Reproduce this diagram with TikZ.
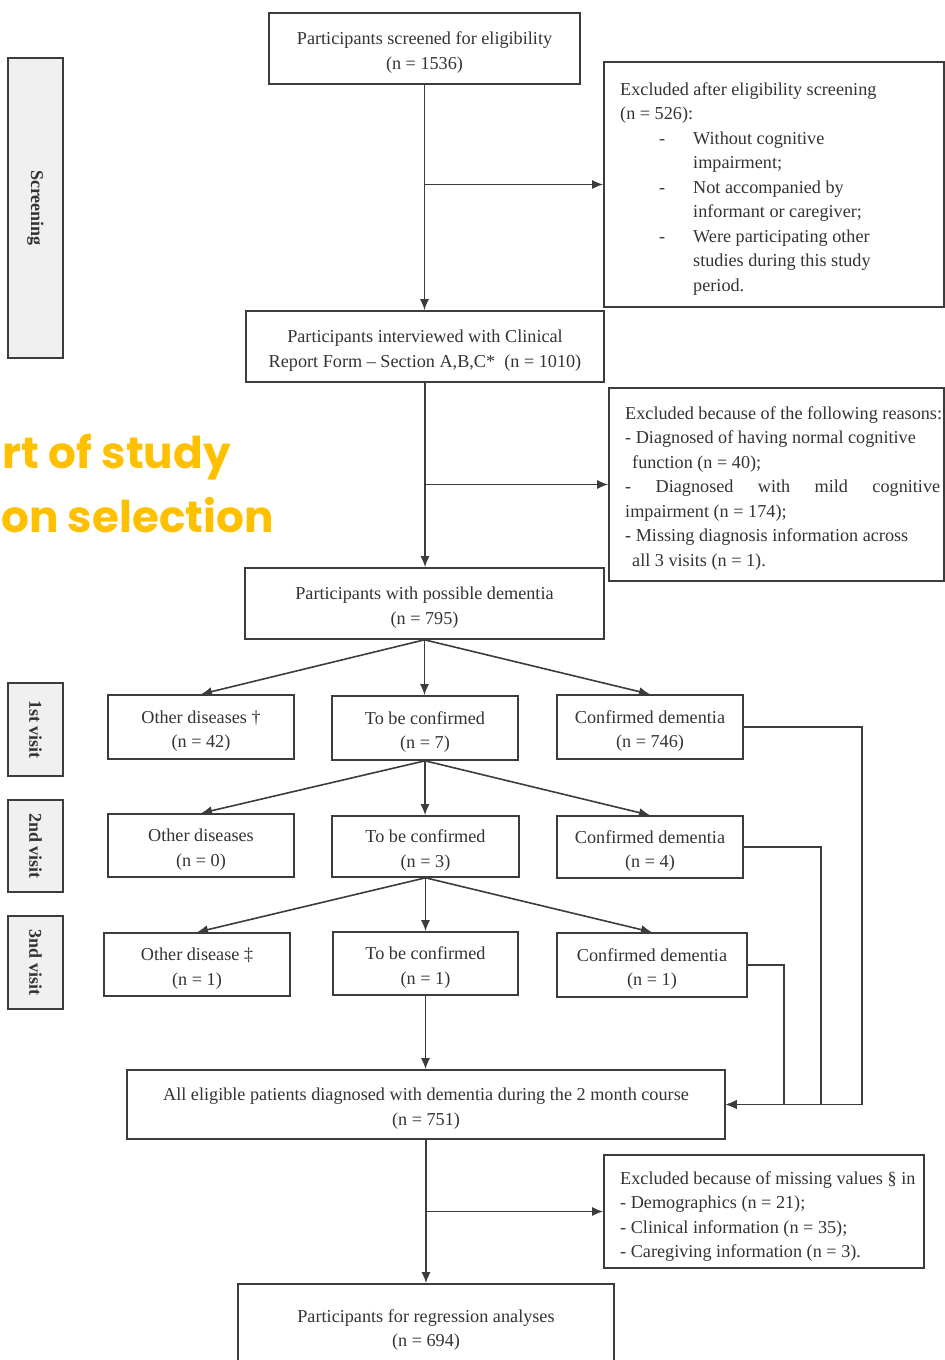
\documentclass[tikz,border=0pt]{standalone}
\usepackage{fontspec}
\setmainfont{Liberation Serif}
\newfontfamily\titlefont{Poppins}
\usetikzlibrary{arrows.meta}
\definecolor{ln}{HTML}{3C3C3C}
\definecolor{tx}{HTML}{333333}
\definecolor{lab}{HTML}{F0F0F0}
\definecolor{orng}{HTML}{FFC000}
\newcommand{\dashitem}[1]{\makebox[73pt][l]{\hspace*{39pt}-}#1}
\newcommand{\contitem}[1]{\hspace*{73pt}#1}
\newcommand{\up}{\rule{0pt}{21pt}}
\begin{document}
\begin{tikzpicture}[x=1pt,y=-1pt,
  txt/.style={font=\fontsize{18.2}{24.5}\selectfont, text=tx},
  box/.style={draw=ln, line width=1.6pt, txt, align=center, inner sep=0pt},
  lbox/.style={draw=ln, line width=1.6pt, fill=lab, rotate=-90, inner sep=0pt,
    font=\fontsize{18}{22}\selectfont\bfseries, text=tx},
  arr/.style={draw=ln, line width=1.6pt, -{Latex[length=11pt,width=9pt]}},
  ttl/.style={font=\titlefont\fontsize{43.8}{50}\selectfont\bfseries, text=orng, inner sep=0pt}
]
\useasboundingbox (0,0) rectangle (945,1360);

% title fragment
\node[ttl, anchor=base east] (t1) at (231,468) {rt of study};
\node[ttl, anchor=base east] (t2) at (274,532) {on selection};

% side labels
\node[lbox, minimum width=300pt, minimum height=55pt] (lscr) at (35.5,208) {Screening};
\node[lbox, minimum width=93pt, minimum height=55pt] (lv1) at (35.5,729.5) {1st visit};
\node[lbox, minimum width=92pt, minimum height=55pt] (lv2) at (35.5,846) {2nd visit};
\node[lbox, minimum width=93pt, minimum height=55pt] (lv3) at (35.5,962.5) {3nd visit};

% main boxes
\node[box, minimum width=311pt, minimum height=71pt] (scr) at (424.5,48.5)
  {\up Participants screened for eligibility\\(n = 1536)};
\node[box, minimum width=358pt, minimum height=71pt] (intv) at (425,346.5)
  {\up Participants interviewed with Clinical\\Report Form – Section A,B,C*~~(n = 1010)};
\node[box, minimum width=359pt, minimum height=71pt] (poss) at (424.5,603.5)
  {\up Participants with possible dementia\\(n = 795)};

\node[box, minimum width=186pt, minimum height=64pt] (r1a) at (201,727) {\up Other diseases †\\(n = 42)};
\node[box, minimum width=186pt, minimum height=64pt] (r1b) at (425,728) {\up To be confirmed\\(n = 7)};
\node[box, minimum width=186pt, minimum height=64pt] (r1c) at (650,727) {\up Confirmed dementia\\(n = 746)};

\node[box, minimum width=186pt, minimum height=63pt] (r2a) at (201,845.5) {\up Other diseases\\(n = 0)};
\node[box, minimum width=187pt, minimum height=61pt] (r2b) at (425.5,846.5) {\up To be confirmed\\(n = 3)};
\node[box, minimum width=186pt, minimum height=62pt] (r2c) at (650,847) {\up Confirmed dementia\\(n = 4)};

\node[box, minimum width=186pt, minimum height=63pt] (r3a) at (197,964.5) {\up Other disease ‡\\(n = 1)};
\node[box, minimum width=185pt, minimum height=63pt] (r3b) at (425.5,963.5) {\up To be confirmed\\(n = 1)};
\node[box, minimum width=190pt, minimum height=64pt] (r3c) at (652,965) {\up Confirmed dementia\\(n = 1)};

\node[box, minimum width=598pt, minimum height=69pt] (all) at (426,1104.5)
  {\up All eligible patients diagnosed with dementia during the 2 month course\\(n = 751)};
\node[box, minimum width=376pt, minimum height=84pt] (reg) at (426,1326)
  {\up Participants for regression analyses\\(n = 694)};

% exclusion boxes
\node[draw=ln, line width=1.6pt, minimum width=340pt, minimum height=245pt, inner sep=0pt] (ex1) at (774,184.5) {};
\node[txt, anchor=base west, inner sep=0pt] (ex1t) at (620,95) {\begin{tabular}[t]{@{}l@{}}
Excluded after eligibility screening\\
(n = 526):\\
\dashitem{Without cognitive}\\
\contitem{impairment;}\\
\dashitem{Not accompanied by}\\
\contitem{informant or caregiver;}\\
\dashitem{Were participating other}\\
\contitem{studies during this study}\\
\contitem{period.}
\end{tabular}};

\node[draw=ln, line width=1.6pt, minimum width=335pt, minimum height=193pt, inner sep=0pt] (ex2) at (776.5,484.5) {};
\node[txt, anchor=base west, inner sep=0pt] (ex2t) at (625,419) {\begin{tabular}[t]{@{}l@{}}
Excluded because of the following reasons:\\
- Diagnosed of having normal cognitive\\
\hspace*{7pt}function (n = 40);\\
\makebox[315pt][s]{- Diagnosed with mild cognitive}\\
impairment (n = 174);\\
- Missing diagnosis information across\\
\hspace*{7pt}all 3 visits (n = 1).
\end{tabular}};

\node[draw=ln, line width=1.6pt, minimum width=320pt, minimum height=113pt, inner sep=0pt] (ex3) at (764,1211.5) {};
\node[txt, anchor=base west, inner sep=0pt] (ex3t) at (620,1184) {\begin{tabular}[t]{@{}l@{}}
Excluded because of missing values § in\\
- Demographics (n = 21);\\
- Clinical information (n = 35);\\
- Caregiving information (n = 3).
\end{tabular}};

% connectors
\draw[arr] (scr.south) -- (scr.south |- intv.north);
\draw[arr] (scr.south |- ex1.west) -- (ex1.west);
\draw[arr] (intv.south) -- (intv.south |- poss.north);
\draw[arr] (intv.south |- ex2.west) -- (ex2.west);

\draw[arr] (poss.south) -- (r1a.north);
\draw[arr] (poss.south) -- (poss.south |- r1b.north);
\draw[arr] (poss.south) -- (r1c.north);

\draw[arr] (r1b.south) -- (r2a.north);
\draw[arr] (r1b.south) -- (r1b.south |- r2b.north);
\draw[arr] (r1b.south) -- (r2c.north);

\draw[arr] (r2b.south) -- (r3a.north);
\draw[arr] (r2b.south) -- (r2b.south |- r3b.north);
\draw[arr] (r2b.south) -- (r3c.north);

\draw[arr] (r3b.south) -- (r3b.south |- all.north);

\draw[arr] (r1c.east) -- ++(118,0) |- (all.east);
\draw[arr] (r2c.east) -- ++(77,0) |- (all.east);
\draw[arr] (r3c.east) -- ++(36,0) |- (all.east);

\draw[arr] (all.south) -- (all.south |- reg.north);
\draw[arr] (all.south |- ex3.west) -- (ex3.west);
\end{tikzpicture}
\end{document}
